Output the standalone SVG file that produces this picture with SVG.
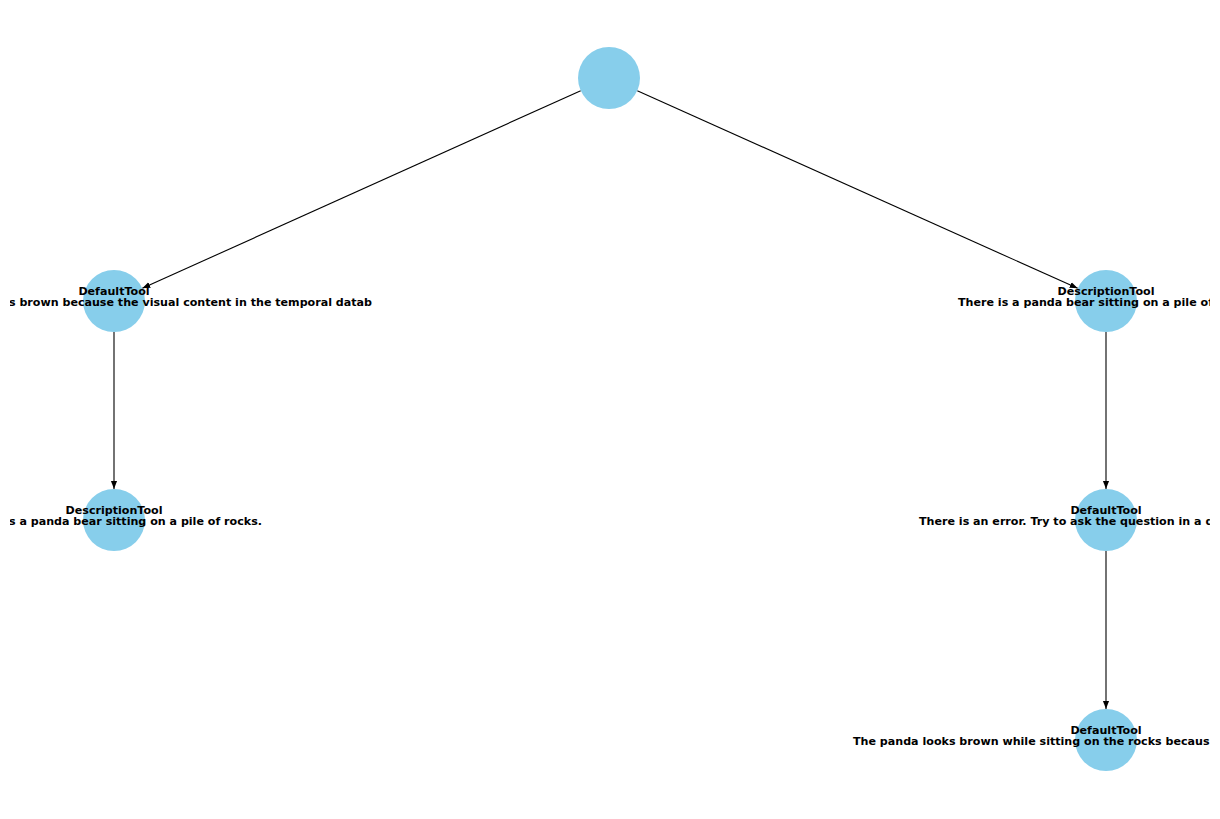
<svg xmlns="http://www.w3.org/2000/svg" width="1220" height="819" viewBox="0 0 1220 819">
  <style>
    .node { fill: #87ceeb; }
    .edge { stroke: #000; stroke-width: 1.1; fill: none; marker-end: url(#arrow); }
    .lbl { font-family: "DejaVu Sans", sans-serif; font-weight: bold; font-size: 11.1px; fill: #000; }
    .c { text-anchor: middle; }
    .s { text-anchor: start; }
    .e { text-anchor: end; }
  </style>
  <defs>
    <marker id="arrow" viewBox="0 0 10 10" refX="10" refY="5" markerWidth="8" markerHeight="8" markerUnits="userSpaceOnUse" orient="auto">
      <path d="M0,1.2 L10,5 L0,8.8 Z" fill="#000"/>
    </marker>
    <clipPath id="canvas">
      <rect x="10" y="0" width="1200" height="819"/>
    </clipPath>
  </defs>
  <rect width="1220" height="819" fill="#fff"/>

  <g id="edges">
    <line class="edge" x1="580.7" y1="90.7" x2="142.3" y2="288.3"/>
    <line class="edge" x1="637.3" y1="90.7" x2="1077.7" y2="288.3"/>
    <line class="edge" x1="114" y1="332" x2="114" y2="489"/>
    <line class="edge" x1="1106" y1="332" x2="1106" y2="489"/>
    <line class="edge" x1="1106" y1="551" x2="1106" y2="709"/>
  </g>

  <g id="root">
    <circle class="node" cx="609" cy="78" r="31"/>
  </g>

  <g id="node-left-1">
    <circle class="node" cx="114" cy="301" r="31"/>
    <g clip-path="url(#canvas)">
      <text class="lbl c" x="114" y="294.5">DefaultTool</text>
      <text class="lbl e" x="372" y="305.5">s brown because the visual content in the temporal datab</text>
    </g>
  </g>

  <g id="node-right-1">
    <circle class="node" cx="1106" cy="301" r="31"/>
    <g clip-path="url(#canvas)">
      <text class="lbl c" x="1106" y="294.5">DescriptionTool</text>
      <text class="lbl s" x="958" y="305.5">There is a panda bear sitting on a pile of</text>
    </g>
  </g>

  <g id="node-left-2">
    <circle class="node" cx="114" cy="520" r="31"/>
    <g clip-path="url(#canvas)">
      <text class="lbl c" x="114" y="513.5">DescriptionTool</text>
      <text class="lbl e" x="262" y="524.5">s a panda bear sitting on a pile of rocks.</text>
    </g>
  </g>

  <g id="node-right-2">
    <circle class="node" cx="1106" cy="520" r="31"/>
    <g clip-path="url(#canvas)">
      <text class="lbl c" x="1106" y="513.5">DefaultTool</text>
      <text class="lbl s" x="919" y="524.5">There is an error. Try to ask the question in a d</text>
    </g>
  </g>

  <g id="node-right-3">
    <circle class="node" cx="1106" cy="740" r="31"/>
    <g clip-path="url(#canvas)">
      <text class="lbl c" x="1106" y="733.5">DefaultTool</text>
      <text class="lbl s" x="853" y="744.5">The panda looks brown while sitting on the rocks becaus</text>
    </g>
  </g>
</svg>
